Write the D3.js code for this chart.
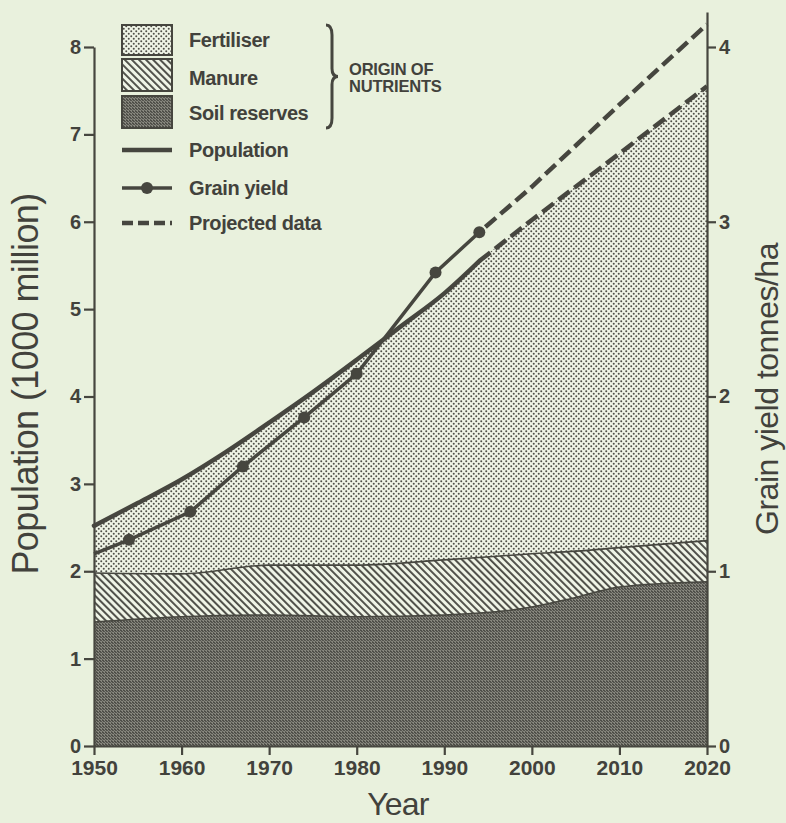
<!DOCTYPE html>
<html>
<head>
<meta charset="utf-8">
<script src="https://cdn.jsdelivr.net/npm/d3@7"></script>
<style>
  html, body { margin: 0; padding: 0; background: #e9f1dd; }
  svg { display: block; }
  text { font-family: "Liberation Sans", Arial, Helvetica, sans-serif; fill: #42423c; }
</style>
</head>
<body>
<svg id="chart" width="786" height="823"></svg>
<script>
// ---- Data ----
const popYears   = [1950, 1955, 1960, 1965, 1970, 1975, 1980, 1985, 1990, 1994, 2000, 2010, 2020];
const popValues  = [2.52, 2.78, 3.05, 3.36, 3.70, 4.05, 4.42, 4.80, 5.18, 5.55, 6.02, 6.78, 7.55];
const grainYears  = [1950, 1954, 1961, 1967, 1974, 1980, 1989, 1994, 2000, 2010, 2020];
const grainValues = [1.10, 1.18, 1.34, 1.60, 1.88, 2.13, 2.71, 2.94, 3.20, 3.67, 4.13];
const grainMarked = [false, true, true, true, true, true, true, true, false, false, false];
const layerYears   = [1950, 1960, 1970, 1980, 1990, 2000, 2005, 2010, 2020];
const manureTop    = [1.98, 1.97, 2.07, 2.07, 2.13, 2.20, 2.23, 2.27, 2.35];
const soilTop      = [1.42, 1.48, 1.50, 1.48, 1.50, 1.59, 1.70, 1.82, 1.88];
const projectedFrom = 1994;
const xTicks = [1950, 1960, 1970, 1980, 1990, 2000, 2010, 2020];
const leftTicks = [0, 1, 2, 3, 4, 5, 6, 7, 8];
const rightTicks = [0, 1, 2, 3, 4];
const legendItems = ["Fertiliser", "Manure", "Soil reserves", "Population", "Grain yield", "Projected data"];
const braceLabel = ["ORIGIN OF", "NUTRIENTS"];

// ---- Layout ----
const INK = "#46463f";
const BG = "#e9f1dd";
const left = 94, right = 707, bottom = 746;
const svg = d3.select("#chart");
svg.append("rect").attr("width", 786).attr("height", 823).attr("fill", BG);

const x = d3.scaleLinear().domain([1950, 2020]).range([left, right]);
const yL = d3.scaleLinear().domain([0, 8]).range([bottom, 47]);
const yR = d3.scaleLinear().domain([0, 4.2]).range([bottom, yL(8.4)]);

// ---- Patterns ----
const defs = svg.append("defs");
const pf = defs.append("pattern").attr("id", "fert").attr("patternUnits", "userSpaceOnUse")
  .attr("width", 5).attr("height", 5);
pf.append("rect").attr("width", 5).attr("height", 5).attr("fill", "#eff4e6");
pf.append("circle").attr("cx", 1.25).attr("cy", 1.25).attr("r", 1.0).attr("fill", "#4f4f48");
pf.append("circle").attr("cx", 3.75).attr("cy", 3.75).attr("r", 1.0).attr("fill", "#4f4f48");

const pm = defs.append("pattern").attr("id", "manure").attr("patternUnits", "userSpaceOnUse")
  .attr("width", 5).attr("height", 5).attr("patternTransform", "rotate(-45)");
pm.append("rect").attr("width", 5).attr("height", 5).attr("fill", "#eff4e6");
pm.append("rect").attr("x", 0).attr("y", 0).attr("width", 1.9).attr("height", 5).attr("fill", "#4a4a44");

const ps = defs.append("pattern").attr("id", "soil").attr("patternUnits", "userSpaceOnUse")
  .attr("width", 3).attr("height", 3);
ps.append("rect").attr("width", 3).attr("height", 3).attr("fill", "#86867d");
ps.append("rect").attr("x", 0).attr("y", 0).attr("width", 2).attr("height", 1).attr("fill", "#4d4d47");
ps.append("rect").attr("x", 1).attr("y", 1).attr("width", 2).attr("height", 1).attr("fill", "#55554f");
ps.append("rect").attr("x", 0).attr("y", 2).attr("width", 1).attr("height", 1).attr("fill", "#5a5a53");

// ---- Areas ----
const popData = popYears.map((yr, i) => ({ yr, v: popValues[i] }));
const manData = layerYears.map((yr, i) => ({ yr, v: manureTop[i] }));
const soilData = layerYears.map((yr, i) => ({ yr, v: soilTop[i] }));

const area = d3.area().x(d => x(d.yr)).y0(yL(0)).y1(d => yL(d.v)).curve(d3.curveMonotoneX);
const line = d3.line().x(d => x(d.yr)).y(d => yL(d.v)).curve(d3.curveMonotoneX);

svg.append("path").datum(popData).attr("d", area).attr("fill", "url(#fert)");
svg.append("path").datum(manData).attr("d", area).attr("fill", "url(#manure)");
svg.append("path").datum(manData).attr("d", line).attr("fill", "none").attr("stroke", INK).attr("stroke-width", 1.6);
svg.append("path").datum(soilData).attr("d", area).attr("fill", "url(#soil)");
svg.append("path").datum(soilData).attr("d", line).attr("fill", "none").attr("stroke", INK).attr("stroke-width", 1.6);

// ---- Population line ----
const popHist = popData.filter(d => d.yr <= projectedFrom);
const popProj = popData.filter(d => d.yr >= projectedFrom);
svg.append("path").datum(popHist).attr("d", line).attr("fill", "none")
  .attr("stroke", INK).attr("stroke-width", 4.5).attr("stroke-linecap", "round");
svg.append("path").datum(popProj).attr("d", d3.line().x(d => x(d.yr)).y(d => yL(d.v))).attr("fill", "none")
  .attr("stroke", INK).attr("stroke-width", 4.5).attr("stroke-dasharray", "14 6");

// ---- Grain yield ----
const grainData = grainYears.map((yr, i) => ({ yr, v: grainValues[i], m: grainMarked[i] }));
const gline = d3.line().x(d => x(d.yr)).y(d => yR(d.v));
svg.append("path").datum(grainData.filter(d => d.yr <= projectedFrom)).attr("d", gline)
  .attr("fill", "none").attr("stroke", INK).attr("stroke-width", 3.5);
svg.append("path").datum(grainData.filter(d => d.yr >= projectedFrom)).attr("d", gline)
  .attr("fill", "none").attr("stroke", INK).attr("stroke-width", 4.5).attr("stroke-dasharray", "14 6")
  .attr("stroke-dashoffset", -8);
svg.selectAll("circle.gy").data(grainData.filter(d => d.m)).join("circle").attr("class", "gy")
  .attr("cx", d => x(d.yr)).attr("cy", d => yR(d.v)).attr("r", 6).attr("fill", INK);

// ---- Axes ----
const styleAxis = g => {
  g.selectAll("path.domain").attr("stroke", INK).attr("stroke-width", 2.2);
  g.selectAll(".tick line").attr("stroke", INK).attr("stroke-width", 2.2);
  g.selectAll(".tick text").attr("fill", "#42423c").attr("font-family", "Liberation Sans, Arial, sans-serif")
    .attr("font-weight", "bold").attr("font-size", 20);
};
svg.append("g").attr("transform", `translate(${left},0)`)
  .call(d3.axisLeft(yL).tickValues(leftTicks).tickSize(10).tickSizeOuter(0).tickPadding(3).tickFormat(d3.format("d")))
  .call(styleAxis);
svg.append("g").attr("transform", `translate(${right},0)`)
  .call(d3.axisRight(yR).tickValues(rightTicks).tickSize(9).tickSizeOuter(0).tickPadding(3).tickFormat(d3.format("d")))
  .call(styleAxis);
svg.append("g").attr("transform", `translate(0,${bottom})`)
  .call(d3.axisBottom(x).tickValues(xTicks).tickSize(9).tickSizeOuter(0).tickPadding(5).tickFormat(d3.format("d")))
  .call(styleAxis)
  .call(g => g.selectAll(".tick text").attr("font-size", 21));

// ---- Axis titles ----
svg.append("text").attr("transform", `translate(38,${384}) rotate(-90)`).attr("text-anchor", "middle")
  .attr("font-size", 36).attr("letter-spacing", -0.6).text("Population (1000 million)");
svg.append("text").attr("transform", `translate(778,${389}) rotate(-90)`).attr("text-anchor", "middle")
  .attr("font-size", 32).attr("letter-spacing", -0.5).text("Grain yield tonnes/ha");
svg.append("text").attr("x", 398).attr("y", 815).attr("text-anchor", "middle")
  .attr("font-size", 32).attr("letter-spacing", -0.8).text("Year");

// ---- Legend ----
const lg = svg.append("g");
const swatches = [{ fill: "url(#fert)", y: 25, h: 30 }, { fill: "url(#manure)", y: 59, h: 32 }, { fill: "url(#soil)", y: 96, h: 32 }];
swatches.forEach(s => lg.append("rect").attr("x", 122).attr("y", s.y).attr("width", 50).attr("height", s.h)
  .attr("fill", s.fill).attr("stroke", INK).attr("stroke-width", 2));
const baselines = [47, 85, 120, 157, 195, 230];
legendItems.forEach((t, i) => lg.append("text").attr("x", 189).attr("y", baselines[i])
  .attr("font-size", 20).attr("font-weight", "bold").attr("letter-spacing", -0.4).text(t));
lg.append("line").attr("x1", 122).attr("x2", 172).attr("y1", 150).attr("y2", 150).attr("stroke", INK).attr("stroke-width", 4.5);
lg.append("line").attr("x1", 122).attr("x2", 172).attr("y1", 188).attr("y2", 188).attr("stroke", INK).attr("stroke-width", 3.5);
lg.append("circle").attr("cx", 147).attr("cy", 188).attr("r", 6).attr("fill", INK);
lg.append("line").attr("x1", 122).attr("x2", 172).attr("y1", 223).attr("y2", 223).attr("stroke", INK).attr("stroke-width", 4.5)
  .attr("stroke-dasharray", "11 5");

// Brace
const bx = 326, bt = 25, bb = 128, bm = (bt + bb) / 2;
lg.append("path").attr("fill", "none").attr("stroke", INK).attr("stroke-width", 3)
  .attr("d", `M${bx},${bt} Q${bx + 6},${bt} ${bx + 6},${bt + 10} L${bx + 6},${bm - 8} Q${bx + 6},${bm} ${bx + 12},${bm}
              Q${bx + 6},${bm} ${bx + 6},${bm + 8} L${bx + 6},${bb - 10} Q${bx + 6},${bb} ${bx},${bb}`);
braceLabel.forEach((t, i) => lg.append("text").attr("x", 349).attr("y", 75 + i * 17)
  .attr("font-size", 16.5).attr("font-weight", "bold").attr("letter-spacing", -0.2).text(t));
</script>
</body>
</html>
